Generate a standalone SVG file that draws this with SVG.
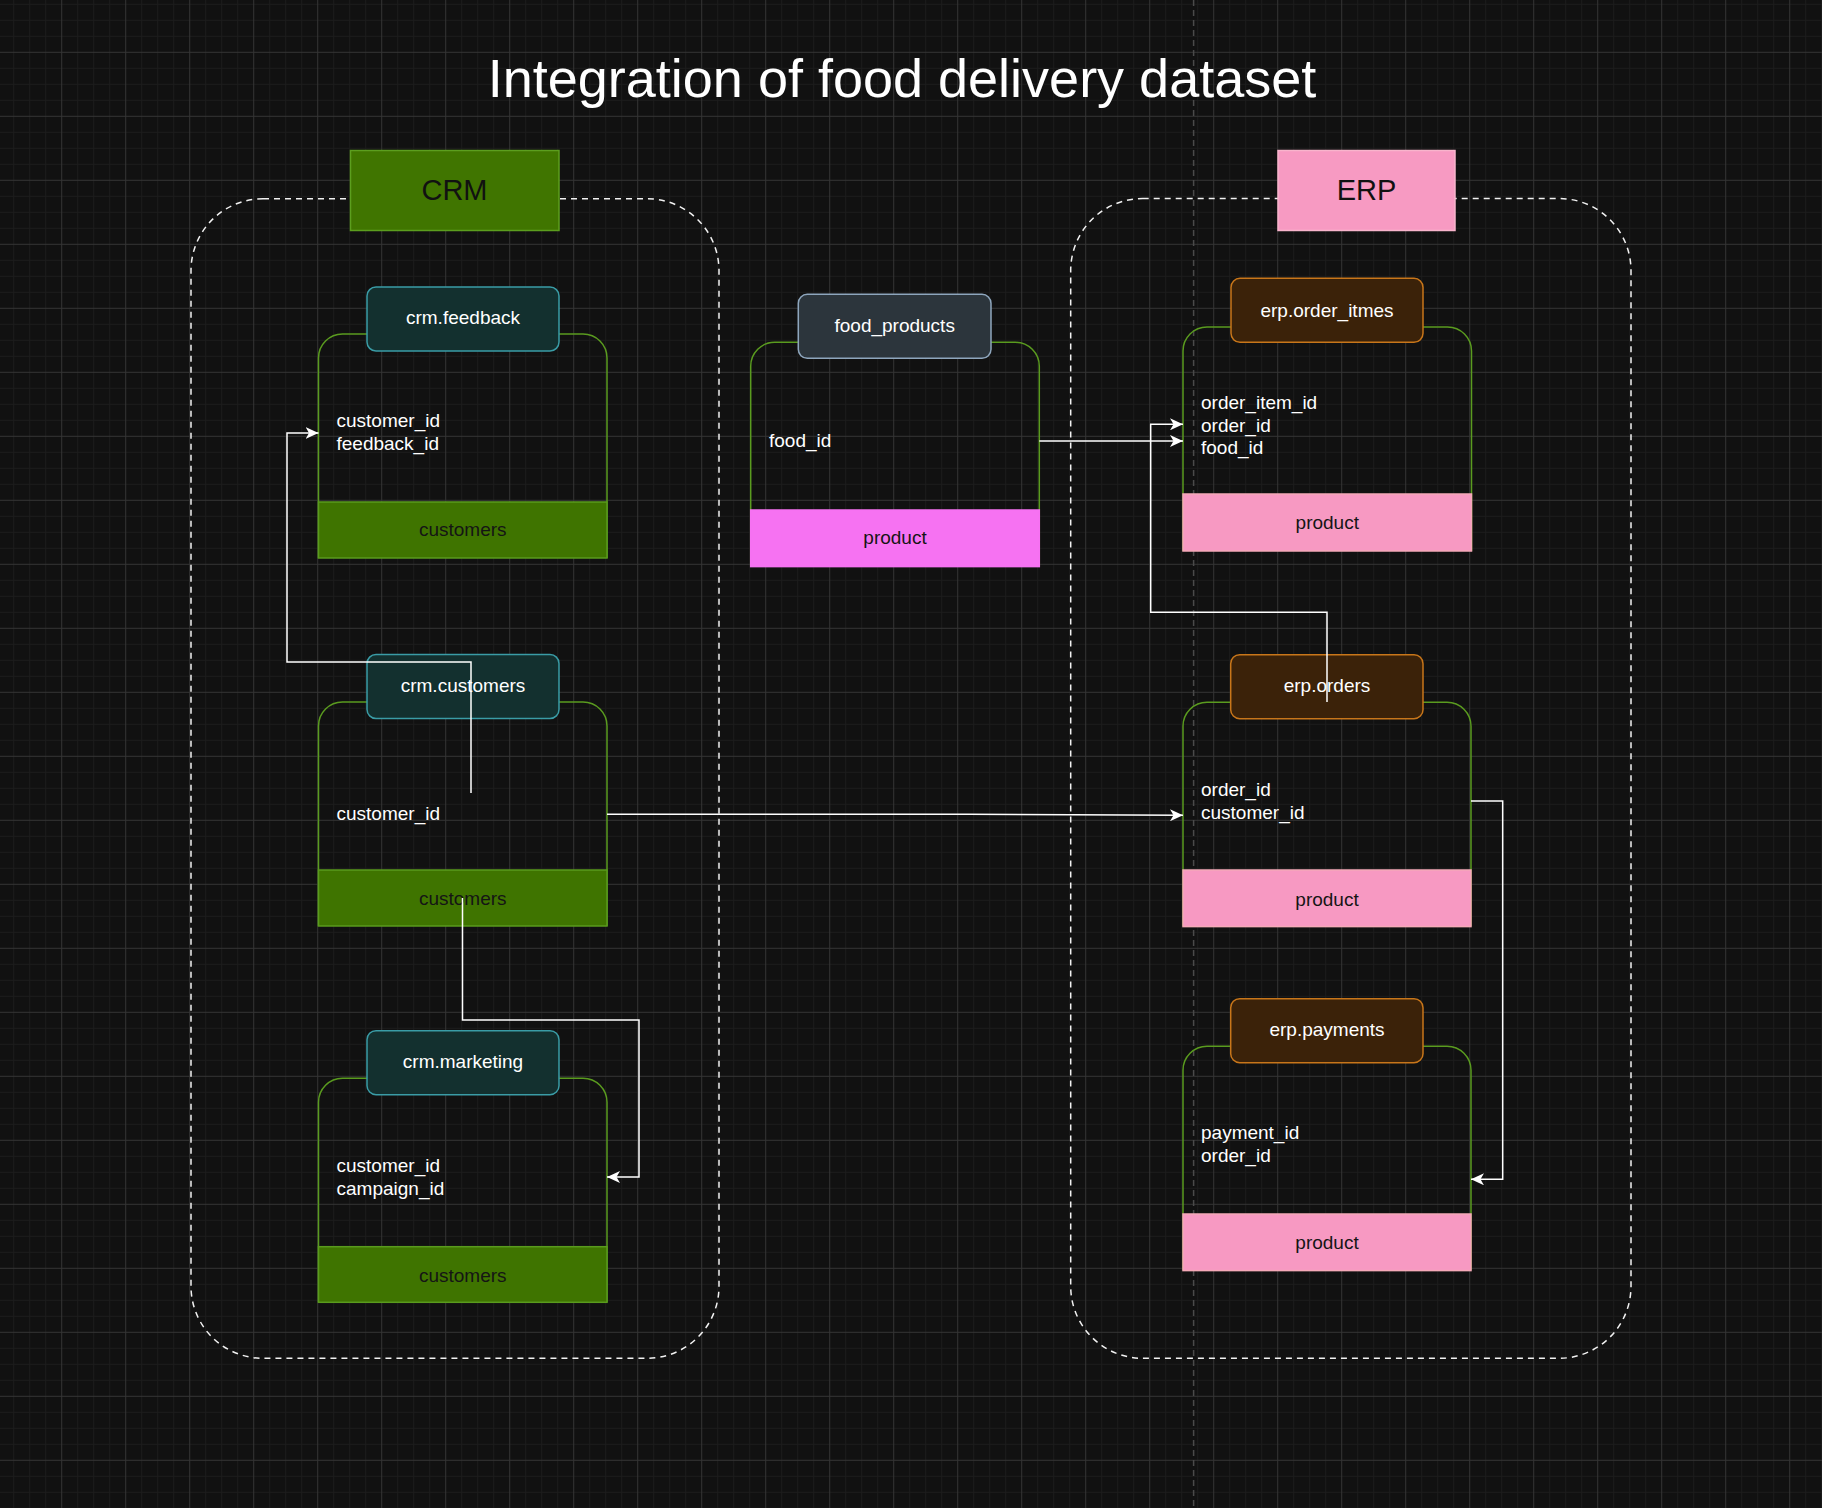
<svg xmlns="http://www.w3.org/2000/svg" width="1822" height="1508" viewBox="0 0 1822 1508">
<style>
.t{font-family:"Liberation Sans",Arial,Helvetica,sans-serif;}
.fld{font-size:19px;fill:#ffffff;}
.hdr{font-size:19px;fill:#ffffff;text-anchor:middle;}
.band-t{font-size:19px;fill:#151515;text-anchor:middle;}
.cont{fill:none;stroke:#5a9b1f;stroke-width:1.5;}
.hcrm{fill:#13302f;stroke:#3a9ca6;stroke-width:1.5;}
.herp{fill:#3b2209;stroke:#c8761a;stroke-width:1.5;}
.hfood{fill:#2c353c;stroke:#8ea6bd;stroke-width:1.5;}
.bgreen{fill:#3f7400;stroke:#5a9b1d;stroke-width:1.5;}
.bpink{fill:#f799c2;stroke:#f5a9b8;stroke-width:1.5;}
.bmag{fill:#f672f2;stroke:#f672f2;stroke-width:1.5;}
.group{fill:none;stroke:#f2f2f2;stroke-width:1.5;stroke-dasharray:6 5;}
.conn{fill:none;stroke:#ffffff;stroke-width:1.5;marker-end:url(#arr);}
</style>
<defs>
<pattern id="grid" width="64" height="64" patternUnits="userSpaceOnUse" x="61.2" y="51.8">
<rect width="64" height="64" fill="#111111"/>
<path d="M16.5 0V64M32.5 0V64M48.5 0V64M0 16.5H64M0 32.5H64M0 48.5H64" stroke="#1c1c1c" stroke-width="1"/>
<path d="M0.5 0V64M0 0.5H64" stroke="#343434" stroke-width="1"/>
</pattern>
<marker id="arr" viewBox="0 0 13 12" refX="13" refY="6" markerWidth="13" markerHeight="12" markerUnits="userSpaceOnUse" orient="auto">
<path d="M0,0 L13,6 L0,12 L3.5,6 Z" fill="#ffffff"/>
</marker>
</defs>

<rect width="1822" height="1508" fill="url(#grid)"/>
<line x1="1193.6" y1="0" x2="1193.6" y2="1508" stroke="#4a4a4a" stroke-width="1.5" stroke-dasharray="6 4"/>

<text class="t" x="902" y="97" font-size="54" fill="#ffffff" text-anchor="middle">Integration of food delivery dataset</text>

<g id="group-crm">
<rect class="group" x="191" y="198.7" width="528" height="1159.6" rx="72" ry="72"/>
<rect x="350.5" y="150.5" width="208.5" height="80" fill="#407500" stroke="#5c9e1e" stroke-width="1.5"/>
<text class="t" x="454.5" y="200" font-size="29" fill="#111111" text-anchor="middle">CRM</text>
</g>

<g id="group-erp">
<rect class="group" x="1070.7" y="198.5" width="560.3" height="1159.8" rx="72" ry="72"/>
<rect x="1278" y="150.5" width="177" height="80" fill="#f79ac2" stroke="#f8b4cc" stroke-width="1.5"/>
<text class="t" x="1366.5" y="200" font-size="29" fill="#111111" text-anchor="middle">ERP</text>
</g>

<g id="node-crm-feedback" transform="translate(318.5,334)">
<path class="cont" d="M0,224 V24 A24,24 0 0 1 24,0 H264.5 A24,24 0 0 1 288.5,24 V224"/>
<rect class="bgreen" x="0" y="168" width="288.5" height="56"/>
<text class="t band-t" x="144.25" y="202">customers</text>
<rect class="hcrm" x="48.5" y="-47" width="192" height="64" rx="9"/>
<text class="t hdr" x="144.5" y="-10">crm.feedback</text>
<text class="t fld" x="18" y="92.7">customer_id</text>
<text class="t fld" x="18" y="116">feedback_id</text>
</g>

<g id="node-crm-customers" transform="translate(318.5,702)">
<path class="cont" d="M0,224 V24 A24,24 0 0 1 24,0 H264.5 A24,24 0 0 1 288.5,24 V224"/>
<rect class="bgreen" x="0" y="168" width="288.5" height="56"/>
<text class="t band-t" x="144.25" y="203">customers</text>
<rect class="hcrm" x="48.5" y="-47.5" width="192" height="64" rx="9"/>
<text class="t hdr" x="144.5" y="-10.5">crm.customers</text>
<text class="t fld" x="18" y="118">customer_id</text>
</g>

<g id="node-crm-marketing" transform="translate(318.5,1078.3)">
<path class="cont" d="M0,224 V24 A24,24 0 0 1 24,0 H264.5 A24,24 0 0 1 288.5,24 V224"/>
<rect class="bgreen" x="0" y="168.4" width="288.5" height="55.6"/>
<text class="t band-t" x="144.25" y="203.4">customers</text>
<rect class="hcrm" x="48.5" y="-47.6" width="192" height="64" rx="9"/>
<text class="t hdr" x="144.5" y="-10.5">crm.marketing</text>
<text class="t fld" x="18" y="93.5">customer_id</text>
<text class="t fld" x="18" y="116.5">campaign_id</text>
</g>

<g id="node-food-products" transform="translate(750.7,342.3)">
<path class="cont" d="M0,224 V24 A24,24 0 0 1 24,0 H264.6 A24,24 0 0 1 288.6,24 V224"/>
<rect class="bmag" x="0" y="167.7" width="288.6" height="56.6"/>
<text class="t band-t" x="144.3" y="201.7">product</text>
<rect class="hfood" x="47.6" y="-48" width="192.7" height="64" rx="9"/>
<text class="t hdr" x="144" y="-10">food_products</text>
<text class="t fld" x="18.3" y="104.4">food_id</text>
</g>

<g id="node-erp-order-items" transform="translate(1183,327)">
<path class="cont" d="M0,224 V24 A24,24 0 0 1 24,0 H264.5 A24,24 0 0 1 288.5,24 V224"/>
<rect class="bpink" x="0" y="167" width="288.5" height="57"/>
<text class="t band-t" x="144.25" y="201.5">product</text>
<rect class="herp" x="48" y="-48.7" width="192" height="64" rx="9"/>
<text class="t hdr" x="144" y="-10.5">erp.order_itmes</text>
<text class="t fld" x="18" y="81.5">order_item_id</text>
<text class="t fld" x="18" y="104.5">order_id</text>
<text class="t fld" x="18" y="127">food_id</text>
</g>

<g id="node-erp-orders" transform="translate(1183,702.3)">
<path class="cont" d="M0,224 V24 A24,24 0 0 1 24,0 H264 A24,24 0 0 1 288,24 V224"/>
<rect class="bpink" x="0" y="167.7" width="288" height="56.6"/>
<text class="t band-t" x="144" y="203.3">product</text>
<rect class="herp" x="47.7" y="-47.6" width="192.3" height="64" rx="9"/>
<text class="t hdr" x="144" y="-10.5">erp.orders</text>
<text class="t fld" x="18" y="93.7">order_id</text>
<text class="t fld" x="18" y="116.4">customer_id</text>
</g>

<g id="node-erp-payments" transform="translate(1183,1046.3)">
<path class="cont" d="M0,224 V24 A24,24 0 0 1 24,0 H264 A24,24 0 0 1 288,24 V224"/>
<rect class="bpink" x="0" y="167.7" width="288" height="56.6"/>
<text class="t band-t" x="144" y="203">product</text>
<rect class="herp" x="47.7" y="-47.6" width="192.3" height="64" rx="9"/>
<text class="t hdr" x="144" y="-10.5">erp.payments</text>
<text class="t fld" x="18" y="93">payment_id</text>
<text class="t fld" x="18" y="116">order_id</text>
</g>

<g id="connectors">
<path class="conn" d="M471,793 V662 H287 V433 H318.5"/>
<path class="conn" d="M607,814.3 H968 L1183,815.3"/>
<path class="conn" d="M462.5,898 V1020 H639 V1177 H607"/>
<path class="conn" d="M1039.3,441 H1183"/>
<path class="conn" d="M1327,702 V612.3 H1150.7 V424.3 H1183"/>
<path class="conn" d="M1471,801 H1502.7 V1179.3 H1471"/>
</g>
</svg>
